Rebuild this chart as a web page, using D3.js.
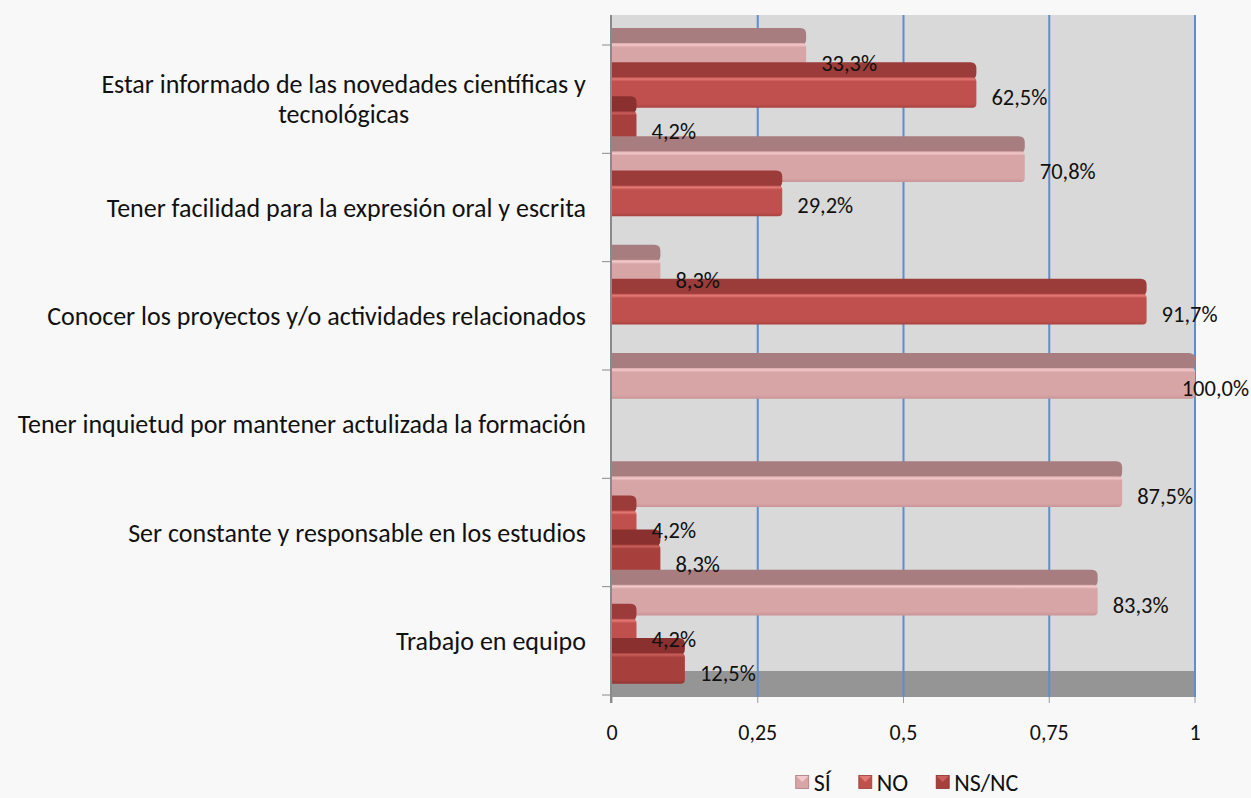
<!DOCTYPE html>
<html>
<head>
<meta charset="utf-8">
<script src="https://cdn.jsdelivr.net/npm/d3@7"></script>
<style>
  html, body { margin: 0; padding: 0; background: #f8f8f8; }
  svg { display: block; }
  text { font-family: Carlito, Lato, "Open Sans", sans-serif; fill: #111; }
</style>
</head>
<body>
<svg id="chart" width="1251" height="798"></svg>
<script>
// ---- data ----
const categories = [
  "Estar informado de las novedades científicas y\ntecnológicas",
  "Tener facilidad para la expresión oral y escrita",
  "Conocer los proyectos y/o actividades relacionados",
  "Tener inquietud por mantener actulizada la formación",
  "Ser constante y responsable en los estudios",
  "Trabajo en equipo"
];
const seriesNames = ["SÍ", "NO", "NS/NC"];
const valuesSI   = [0.333, 0.708, 0.083, 1.000, 0.875, 0.833];
const valuesNO   = [0.625, 0.292, 0.917, 0,     0.042, 0.042];
const valuesNSNC = [0.042, 0,     0,     0,     0.083, 0.125];
const dataLabelsSI   = ["33,3%", "70,8%", "8,3%", "100,0%", "87,5%", "83,3%"];
const dataLabelsNO   = ["62,5%", "29,2%", "91,7%", "", "4,2%", "4,2%"];
const dataLabelsNSNC = ["4,2%", "", "", "", "8,3%", "12,5%"];
const xTicks = [0, 0.25, 0.5, 0.75, 1];
const xTickLabels = ["0", "0,25", "0,5", "0,75", "1"];

const seriesValues = [valuesSI, valuesNO, valuesNSNC];
const seriesLabels = [dataLabelsSI, dataLabelsNO, dataLabelsNSNC];

// styles
const colors = [
  { top: "#a77d80", front: "#d8a5a7", hi: "#f3c9cb", dark: "#c99497" },
  { top: "#9c3c3a", front: "#c0504d", hi: "#e27a76", dark: "#a8423f" },
  { top: "#8a302e", front: "#a7403d", hi: "#c95e5a", dark: "#933633" }
];

const svg = d3.select("#chart");
const W = 1251, H = 798;
const pLeft = 611, pRight = 1195, pTop = 15, pBottom = 697, floorTop = 671;

const x = d3.scaleLinear().domain([0, 1]).range([pLeft + 1, pRight]);
const y = d3.scaleBand().domain(categories.map((c, i) => i)).range([45, 695]).padding(0);
const ys = d3.scaleBand().domain(d3.range(seriesNames.length)).range([-2, 97]).paddingInner(0.1).paddingOuter(0);
const depth = 15;

const defs = svg.append("defs");
colors.forEach((c, i) => {
  const g = defs.append("linearGradient").attr("id", "fg" + i)
    .attr("x1", 0).attr("y1", 0).attr("x2", 0).attr("y2", 1);
  g.append("stop").attr("offset", "0%").attr("stop-color", c.front);
  g.append("stop").attr("offset", "6%").attr("stop-color", c.hi);
  g.append("stop").attr("offset", "14%").attr("stop-color", c.front);
  g.append("stop").attr("offset", "88%").attr("stop-color", c.front);
  g.append("stop").attr("offset", "100%").attr("stop-color", c.dark);
});

// wall and floor
svg.append("rect").attr("x", pLeft).attr("y", pTop).attr("width", pRight - pLeft).attr("height", floorTop - pTop)
  .attr("fill", "#d9d9d9");
svg.append("rect").attr("x", pLeft).attr("y", floorTop).attr("width", pRight - pLeft).attr("height", pBottom - floorTop)
  .attr("fill", "#959595");

// gridlines
svg.append("g").selectAll("line").data(xTicks.slice(1)).join("line")
  .attr("x1", d => x(d)).attr("x2", d => x(d))
  .attr("y1", pTop).attr("y2", pBottom)
  .attr("stroke", "#5f8ecb").attr("stroke-width", 2);

// x axis ticks & labels
const xAxis = svg.append("g");
xAxis.selectAll("line").data(xTicks).join("line")
  .attr("x1", d => x(d)).attr("x2", d => x(d))
  .attr("y1", pBottom).attr("y2", pBottom + 6)
  .attr("stroke", "#9a9a9a").attr("stroke-width", 1);
xAxis.selectAll("text").data(xTicks).join("text")
  .attr("x", d => x(d)).attr("y", 732)
  .attr("text-anchor", "middle").attr("dominant-baseline", "central")
  .style("font-size", "22px")
  .text((d, i) => xTickLabels[i]);

// y axis line and ticks
svg.append("line").attr("x1", pLeft).attr("x2", pLeft).attr("y1", pTop).attr("y2", pBottom + 6)
  .attr("stroke", "#8a8a8a").attr("stroke-width", 2);
const yBounds = categories.map((c, i) => y(i)).concat([y(categories.length - 1) + y.bandwidth()]);
svg.append("g").selectAll("line").data(yBounds).join("line")
  .attr("x1", pLeft - 9).attr("x2", pLeft).attr("y1", d => d).attr("y2", d => d)
  .attr("stroke", "#8a8a8a").attr("stroke-width", 1);

// category labels
const catG = svg.append("g");
categories.forEach((c, i) => {
  const lines = c.split("\n");
  const cy = y(i) + y.bandwidth() / 2;
  const lh = 30;
  const t = catG.append("text").attr("text-anchor", "middle").style("font-size", "26px");
  lines.forEach((ln, k) => {
    t.append("tspan").attr("x", 0).attr("y", cy + (k - (lines.length - 1) / 2) * lh)
      .attr("dominant-baseline", "central").text(ln);
  });
  const w = t.node().getBBox().width;
  t.selectAll("tspan").attr("x", 586 - w / 2);
});

// bars
const rr = 4;
function barPath(x0, x1, y0, h, r) {
  const rx = Math.min(r, (x1 - x0) / 2);
  return `M${x0},${y0} H${x1 - rx} Q${x1},${y0} ${x1},${y0 + rx} V${y0 + h - rx} Q${x1},${y0 + h} ${x1 - rx},${y0 + h} H${x0} Z`;
}
const barsG = svg.append("g");
categories.forEach((c, i) => {
  seriesValues.forEach((vals, s) => {
    const v = vals[i];
    if (!v) return;
    const fy = y(i) + ys(s);
    const h = ys.bandwidth();
    const x0 = x(0), x1 = x(v);
    barsG.append("path").attr("d", barPath(x0, x1, fy - depth, depth + 2, 6))
      .attr("fill", colors[s].top);
    barsG.append("path").attr("d", barPath(x0, x1, fy, h, rr))
      .attr("fill", `url(#fg${s})`);
  });
});

// data labels
const lblG = svg.append("g");
categories.forEach((c, i) => {
  seriesValues.forEach((vals, s) => {
    const v = vals[i];
    if (!v) return;
    const fy = y(i) + ys(s) + ys.bandwidth() / 2 + 5;
    const t = lblG.append("text").attr("x", x(v) + 15).attr("y", fy)
      .attr("dominant-baseline", "central").style("font-size", "22.5px")
      .text(seriesLabels[s][i]);
    const w = t.node().getComputedTextLength();
    if (x(v) + 15 + w > W - 2) t.attr("x", W - 2 - w);
  });
});

// legend
const legG = svg.append("g");
let lx = 0;
seriesNames.forEach((n, s) => {
  const g = legG.append("g").attr("transform", `translate(${lx},0)`);
  g.append("rect").attr("x", 0).attr("y", -6.5).attr("width", 13).attr("height", 13).attr("fill", colors[s].front)
    .attr("stroke", colors[s].top).attr("stroke-width", 0.8);
  g.append("path").attr("d", "M0.5,-6 L6.5,0 L12.5,-6 Z").attr("fill", colors[s].hi);
  const t = g.append("text").attr("x", 18).attr("y", 0).attr("dominant-baseline", "central")
    .style("font-size", "24px").text(n);
  lx += 18 + t.node().getComputedTextLength() + 28;
});
const legW = lx - 28;
legG.attr("transform", `translate(${907 - legW / 2},782)`);
</script>
</body>
</html>
